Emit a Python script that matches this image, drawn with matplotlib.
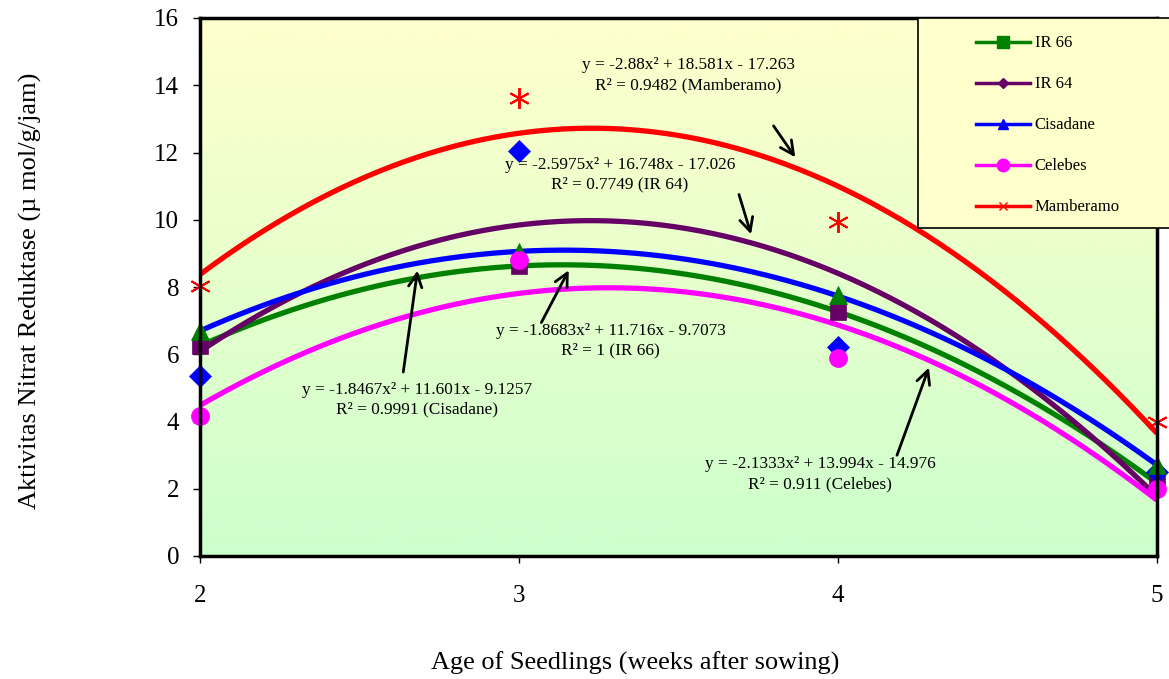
import numpy as np
import matplotlib.pyplot as plt
from matplotlib.lines import Line2D
from matplotlib.patches import Rectangle
from matplotlib.colors import LinearSegmentedColormap

plt.rcParams['font.family'] = ['Liberation Serif', 'DejaVu Serif']

# Data: nitrate reductase activity per variety, weeks 2-5
weeks = [2, 3, 4, 5]
ir66 = [6.25, 8.63, 7.26, 2.17]
ir64 = [5.35, 12.04, 6.21, 2.50]
cisadane = [6.70, 9.04, 7.75, 2.70]
celebes = [4.15, 8.80, 5.88, 1.99]
mamberamo = [8.02, 13.63, 9.94, 4.00]

names = ['IR 66', 'IR 64', 'Cisadane', 'Celebes', 'Mamberamo']
series = [ir66, ir64, cisadane, celebes, mamberamo]
line_colors = ['#008000', '#660066', '#0000FF', '#FF00FF', '#FF0000']
# marker styles as they appear on the data points
pt_markers = ['s', 'D', '^', 'o', (6, 2, 0)]
pt_colors = ['#660066', '#0000FF', '#008000', '#FF00FF', '#FF0000']
pt_sizes = [12, 11, 13, 13, 15]
leg_markers = ['s', 'D', '^', 'o', 'x']
leg_sizes = [8, 5, 7, 9, 6]

equations = [
    ('y = -1.8683x² + 11.716x - 9.7073\nR² = 1 (IR 66)', (3.288, 6.40), (3.066, 6.87), (3.160, 8.57)),
    ('y = -2.5975x² + 16.748x - 17.026\nR² = 0.7749 (IR 64)', (3.317, 11.33), (3.687, 10.83), (3.730, 9.49)),
    ('y = -1.8467x² + 11.601x - 9.1257\nR² = 0.9991 (Cisadane)', (2.680, 4.66), (2.636, 5.39), (2.683, 8.57)),
    ('y = -2.1333x² + 13.994x - 14.976\nR² = 0.911 (Celebes)', (3.944, 2.43), (4.182, 2.92), (4.288, 5.68)),
    ('y = -2.88x² + 18.581x - 17.263\nR² = 0.9482 (Mamberamo)', (3.530, 14.30), (3.793, 12.86), (3.871, 11.79)),
]

fig = plt.figure(figsize=(11.69, 6.79), dpi=100)
ax = fig.add_axes([200 / 1169, 1 - 556 / 679, 957 / 1169, 538 / 679])

# yellow-to-green gradient background
cmap = LinearSegmentedColormap.from_list('bg', ['#CCFFCC', '#FFFFCC'])
grad = np.linspace(0, 1, 256).reshape(-1, 1)
ax.imshow(grad, cmap=cmap, origin='lower', extent=[0, 1, 0, 1], aspect='auto',
          transform=ax.transAxes, zorder=0)

xs = np.linspace(2, 5, 300)
for vals, col in zip(series, line_colors):
    coef = np.polyfit(weeks, vals, 2)
    ax.plot(xs, np.polyval(coef, xs), color=col, lw=3.8, zorder=2, solid_capstyle='butt')

for vals, m, c, s in zip(series, pt_markers, pt_colors, pt_sizes):
    ax.plot(weeks, vals, linestyle='none', marker=m, color=c, markersize=s,
            markeredgewidth=1.4 if m == (6, 2, 0) else 0.5, zorder=3, clip_on=False)

for text, pos, tail, head in equations:
    ax.text(pos[0], pos[1], text, ha='center', va='center', fontsize=12.4,
            linespacing=1.3, zorder=4)
    ax.annotate('', xy=head, xytext=tail,
                arrowprops=dict(arrowstyle='->', color='black', lw=2,
                                mutation_scale=24), zorder=4)

ax.set_xlim(2, 5)
ax.set_ylim(0, 16)
ax.set_xticks(weeks)
ax.set_yticks(range(0, 17, 2))
ax.tick_params(direction='out', length=5, width=1, labelsize=18)
ax.tick_params(axis='x', pad=16)
ax.tick_params(axis='y', pad=10)
for sp in ax.spines.values():
    sp.set_linewidth(2.5)
    sp.set_zorder(5)

fig.text(635 / 1169, 1 - 663 / 679, 'Age of Seedlings (weeks after sowing)',
         ha='center', va='center', fontsize=18.9)
fig.text(30 / 1169, 1 - 291 / 679, 'Aktivitas Nitrat Reduktase (µ mol/g/jam)',
         ha='center', va='center', rotation=90, fontsize=19)

# legend box
fig.patches.append(Rectangle((918 / 1169, 1 - 228 / 679), 260 / 1169, 210 / 679,
                             transform=fig.transFigure, facecolor='#FFFFCC',
                             edgecolor='black', lw=1.2, zorder=6))
handles = [Line2D([], [], color=c, lw=2.5, marker=m, markersize=s)
           for c, m, s in zip(line_colors, leg_markers, leg_sizes)]
leg = fig.legend(handles, names, loc='upper left', bbox_to_anchor=(968 / 1169, 1 - 27 / 679),
                 frameon=False, fontsize=12, handlelength=3.2, handletextpad=0.3,
                 labelspacing=1.5, borderpad=0)
leg.set_zorder(7)

fig.savefig('out.png', dpi=100)
